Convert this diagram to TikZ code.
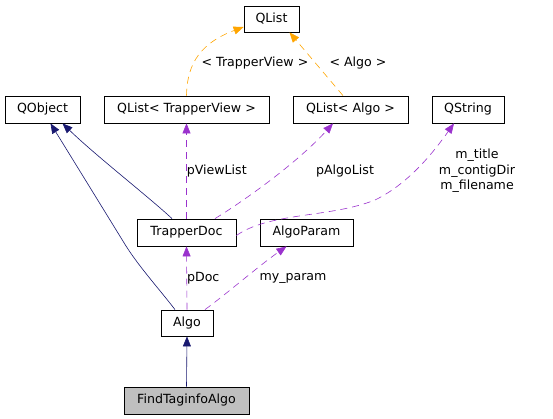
\documentclass[tikz,border=0pt]{standalone}
\usepackage{fontspec}
\setmainfont{DejaVu Sans}
\usetikzlibrary{arrows.meta}
\definecolor{navy}{RGB}{25,25,112}
\definecolor{purp}{RGB}{154,50,205}
\definecolor{orng}{RGB}{255,165,0}
\definecolor{grayfill}{RGB}{191,191,191}
\tikzset{
  box/.style={draw=black, line width=0.8pt, inner sep=0pt, minimum height=27pt, font=\fontsize{12.6}{14.5}\selectfont, anchor=center},
  lbl/.style={inner sep=0pt, font=\fontsize{12.6}{15.5}\selectfont},
  inh/.style={draw=navy, line width=0.6pt, -{Triangle[length=10pt,width=8pt]}},
  use/.style={draw=purp, line width=0.6pt, dash pattern=on 7pt off 5pt, -{Triangle[length=10pt,width=8pt]}},
  tmpl/.style={draw=orng, line width=0.6pt, dash pattern=on 7pt off 5pt, -{Triangle[length=10pt,width=8pt]}},
}
\begin{document}
\begin{tikzpicture}[x=1pt,y=1pt]
\useasboundingbox (0,0) rectangle (553,-419);
\node[box, minimum width=55pt, minimum height=26pt] (QList) at (271.5,-19) {QList};
\node[box, minimum width=75pt] (QObject) at (42.5,-109.5) {QObject};
\node[box, minimum width=165pt] (QListTV) at (186.5,-109.5) {QList< TrapperView >};
\node[box, minimum width=115pt] (QListAlgo) at (350.5,-109.5) {QList< Algo >};
\node[box, minimum width=72pt] (QString) at (468,-109.5) {QString};
\node[box, minimum width=99pt] (TrapperDoc) at (186.5,-232.5) {TrapperDoc};
\node[box, minimum width=93pt] (AlgoParam) at (306.5,-232.5) {AlgoParam};
\node[box, minimum width=52pt, minimum height=26pt] (Algo) at (187,-323) {Algo};
\node[box, minimum width=125pt, fill=grayfill] (Find) at (186.5,-400.5) {FindTaginfoAlgo};

% inheritance
\draw[inh] (Find.north) -- (Algo.south);
\draw[inh] ([xshift=-12pt]Algo.north) .. controls (160,-290) and (140,-268) .. (126,-246)
   .. controls (110,-220) and (70,-155) .. ([xshift=8pt]QObject.south);
\draw[inh] ([xshift=-14.5pt]TrapperDoc.north) .. controls (150,-198) and (95,-155) .. ([xshift=20pt]QObject.south);

% usage
\draw[use] (TrapperDoc.north) -- (QListTV.south) node[lbl, pos=0.5, anchor=west] {pViewList};
\draw[use] (Algo.north) -- (TrapperDoc.south) node[lbl, pos=0.5, anchor=west] {pDoc};
\draw[use] ([xshift=28.5pt]TrapperDoc.north) .. controls (250,-197) and (300,-160) .. ([xshift=-17.5pt]QListAlgo.south);
\node[lbl] (lAlgoList) at (345,-171) {pAlgoList};
\draw[use] ([yshift=-3pt]TrapperDoc.east) .. controls (270,-212) and (330,-218) .. (375,-200)
   .. controls (410,-183) and (435,-150) .. ([xshift=-14pt]QString.south);
\node[lbl, align=center] (lStr) at (477,-171) {m\_title\\m\_contigDir\\m\_filename};
\draw[use] ([xshift=18pt]Algo.north) .. controls (225,-295) and (260,-265) .. ([xshift=-20pt]AlgoParam.south);
\node[lbl] (lParam) at (293,-278) {my\_param};

% template
\draw[tmpl] (QListTV.north) .. controls (187,-70) and (195,-45) .. ([yshift=-8pt]QList.west);
\node[lbl] (lTV) at (255,-63) {< TrapperView >};
\draw[tmpl] ([xshift=-7.5pt]QListAlgo.north) -- ([xshift=18pt]QList.south);
\node[lbl] (lA) at (358,-63) {< Algo >};
\end{tikzpicture}
\end{document}
